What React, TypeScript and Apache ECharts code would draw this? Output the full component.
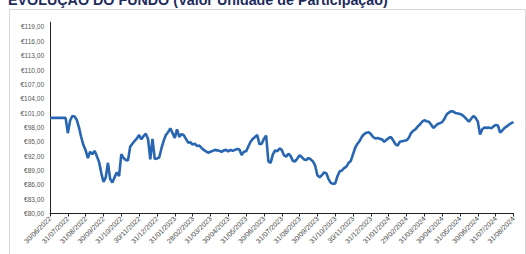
import React, { useEffect, useRef } from "react";
import * as echarts from "echarts";

const TITLE = "EVOLUÇÃO DO FUNDO (Valor Unidade de Participação)";

const DATES = [
  "30/06/2022", "31/07/2022", "31/08/2022", "30/09/2022", "31/10/2022", "30/11/2022",
  "31/12/2022", "31/01/2023", "28/02/2023", "31/03/2023", "30/04/2023", "31/05/2023",
  "30/06/2023", "31/07/2023", "31/08/2023", "30/09/2023", "31/10/2023", "30/11/2023",
  "31/12/2023", "31/01/2024", "29/02/2024", "31/03/2024", "30/04/2024", "31/05/2024",
  "30/06/2024", "31/07/2024", "31/08/2024",
];

// samples per month between the month-end ticks
const POINTS_PER_MONTH = 8;

const VALUES = [
  100.0, 100.0, 100.0, 100.0, 100.0, 100.0, 100.0, 100.0,
  96.8, 99.4, 100.4, 100.3, 99.6, 98.0, 96.0, 94.3,
  93.2, 91.6, 92.9, 92.4, 93.1, 92.0, 90.8, 88.5,
  86.6, 87.5, 90.6, 87.2, 86.5, 87.6, 88.6, 87.8,
  92.4, 91.6, 91.2, 91.1, 94.0, 94.6, 95.2, 95.7,
  96.4, 95.5, 96.2, 96.7, 95.6, 91.3, 95.6, 91.4,
  91.5, 91.7, 93.6, 95.2, 96.4, 97.0, 97.8, 96.8,
  95.8, 97.6, 96.0, 96.6, 96.4, 95.6, 94.8, 94.9,
  94.4, 94.6, 94.1, 94.2, 93.7, 93.3, 93.0, 92.7,
  92.9, 93.1, 93.3, 93.2, 93.1, 92.9, 93.2, 93.3,
  93.0, 93.3, 93.1, 93.3, 93.5, 93.4, 92.2, 92.9,
  93.0, 94.0, 95.0, 95.6, 96.0, 96.4, 94.5, 94.6,
  95.6, 96.3, 90.9, 90.6, 92.3, 93.2, 93.0, 93.6,
  93.3, 92.2, 91.9, 92.5, 92.0, 91.0, 90.9, 91.5,
  92.2, 91.8, 91.3, 91.2, 91.6, 91.3, 90.9, 90.0,
  88.0, 87.6, 88.0, 88.6, 88.4, 87.2, 86.4, 86.2,
  86.3, 87.8, 88.8, 89.0, 89.5, 89.8, 90.6, 91.0,
  92.4, 93.8, 94.6, 95.2, 96.1, 96.6, 96.9, 97.0,
  96.6, 96.0, 95.7, 95.8, 95.6, 95.5, 95.0, 95.4,
  95.8, 96.0, 95.3, 94.5, 94.2, 95.0, 95.1, 95.2,
  95.3, 95.8, 96.8, 97.3, 97.6, 98.2, 98.6, 99.2,
  99.5, 99.3, 99.2, 98.6, 97.9, 98.3, 98.7, 98.9,
  99.1, 99.8, 100.7, 101.1, 101.4, 101.3, 101.0, 100.9,
  100.8, 100.6, 100.2, 99.7, 99.2, 99.8, 100.4, 100.0,
  99.2, 96.5, 97.6, 98.0, 97.9, 98.0, 97.8, 98.2,
  98.5, 98.4, 96.9, 97.4, 97.9, 98.2, 98.6, 98.9,
  99.1,
];

const Y_MIN = 80;
const Y_MAX = 120;
const Y_STEP = 3;

export default function App() {
  const ref = useRef<HTMLDivElement>(null);

  useEffect(() => {
    document.body.style.margin = "0";
    if (!ref.current) return;
    const chart = echarts.init(ref.current, null, { renderer: "svg" });
    const data = VALUES.map((v, i) => [i / POINTS_PER_MONTH, v]);
    chart.setOption({
      animation: false,
      backgroundColor: "#ffffff",
      graphic: [
        {
          type: "rect",
          shape: { x: 9.5, y: 9.5, width: 516, height: 260 },
          style: { fill: "none", stroke: "#d8d8d8", lineWidth: 1 },
          silent: true,
        },
        {
          type: "text",
          x: 8,
          y: 0,
          style: {
            text: TITLE,
            fontFamily: "Liberation Sans, Arial, sans-serif",
            fontWeight: "bold",
            fontSize: 14.3,
            fill: "#1d2b5c",
            verticalAlign: "middle",
          },
          silent: true,
        },
      ],
      grid: { left: 50, right: 12.5, top: 22.2, bottom: 40.5, containLabel: false },
      xAxis: {
        type: "value",
        min: 0,
        max: DATES.length - 1,
        interval: 1,
        splitLine: { show: false },
        axisLine: { show: true, lineStyle: { color: "#222", width: 1 } },
        axisTick: { show: true, length: 3, lineStyle: { color: "#222" } },
        axisLabel: {
          rotate: 45,
          margin: 4,
          fontSize: 7,
          color: "#444",
          fontFamily: "Liberation Sans, Arial, sans-serif",
          formatter: (v: number) => DATES[Math.round(v)] ?? "",
        },
      },
      yAxis: {
        type: "value",
        min: Y_MIN,
        max: Y_MAX,
        interval: Y_STEP,
        splitLine: { show: false },
        axisLine: { show: true, lineStyle: { color: "#222", width: 1 } },
        axisTick: { show: false },
        axisLabel: {
          showMaxLabel: false,
          margin: 6,
          fontSize: 6.5,
          color: "#555",
          fontFamily: "Liberation Sans, Arial, sans-serif",
          formatter: (v: number) => "€" + v.toFixed(2).replace(".", ","),
        },
      },
      series: [
        {
          type: "line",
          data,
          showSymbol: false,
          symbol: "none",
          lineStyle: { color: "#2866b1", width: 2.6 },
        },
      ],
    });
    return () => chart.dispose();
  }, []);

  return <div ref={ref} style={{ width: 526, height: 254 }} />;
}
